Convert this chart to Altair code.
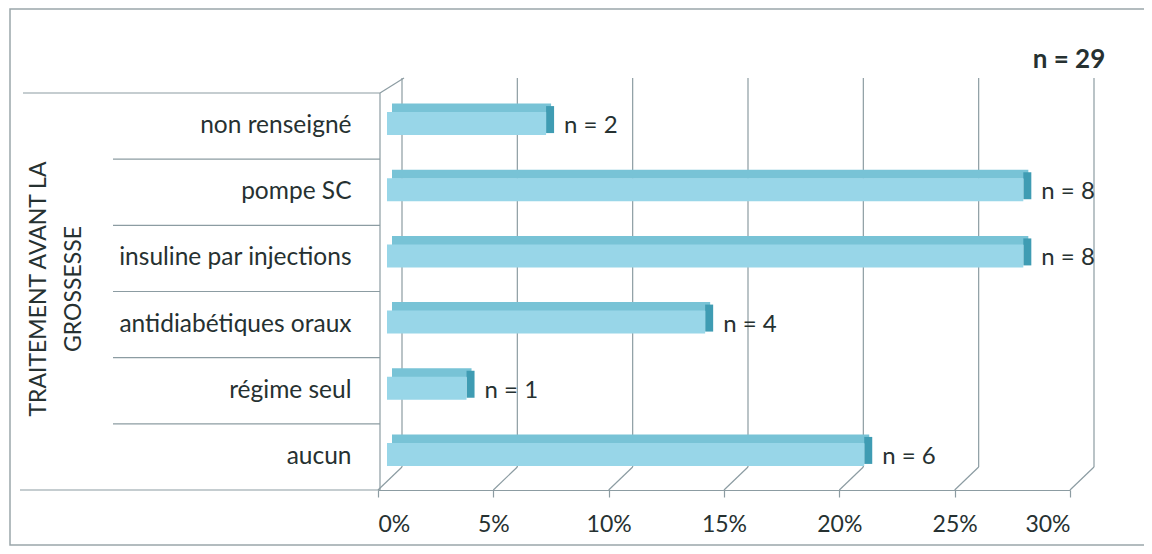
import altair as alt
import pandas as pd

# ---- data ----
categories = ["non renseigné", "pompe SC", "insuline par injections",
              "antidiabétiques oraux", "régime seul", "aucun"]
counts = [2, 8, 8, 4, 1, 6]
total = 29
x_ticks = [0, 0.05, 0.10, 0.15, 0.20, 0.25, 0.30]
y_title = ["TRAITEMENT AVANT LA", "GROSSESSE"]

df = pd.DataFrame({"cat": categories, "n": counts})
df["pct"] = df["n"] / total
df["label"] = ["n = %d" % c for c in counts]
ticks_df = pd.DataFrame({"t": x_ticks})
sep_df = pd.DataFrame({"cat": categories[1:]})
one = pd.DataFrame({"total": [total]})
one["txt"] = "n = " + one["total"].astype(str)
one["ytitle"] = "\n".join(y_title)

W, H = 692, 397
FONT = "Lato"
TXT = "#263131"
LINE = "#8c9ca2"
DEPTH_X, DEPTH_Y = 24, 23

xs = alt.Scale(domain=[0, 0.30], nice=False, zero=True)
ys = alt.Scale(domain=categories, paddingInner=0, paddingOuter=0)

x_axis = alt.Axis(values=x_ticks, format=".0%", title=None, grid=False,
                  labelFont=FONT, labelFontSize=23, labelColor=TXT,
                  tickColor=LINE, tickSize=7, tickWidth=1.2,
                  domainColor=LINE, domainWidth=1.2, labelPadding=16)
y_axis = alt.Axis(title=None, ticks=False, domain=False, grid=False,
                  labelFont=FONT, labelFontSize=24.5, labelColor=TXT,
                  labelPadding=27, labelLimit=400)


def X(field):
    return alt.X(field, scale=xs, axis=x_axis)


def Y(field, **kw):
    return alt.Y(field, scale=ys, sort=categories, axis=y_axis, **kw)


# back wall gridlines
back_grid = alt.Chart(ticks_df).mark_rule(color=LINE, strokeWidth=1.2, xOffset=DEPTH_X).encode(
    x=X("t:Q"), y=alt.value(-15), y2=alt.value(H - DEPTH_Y),
)
# floor diagonals
diag = alt.Chart(ticks_df).mark_rule(color=LINE, strokeWidth=1.2, x2Offset=DEPTH_X).encode(
    x=X("t:Q"), x2="t:Q", y=alt.value(H), y2=alt.value(H - DEPTH_Y),
)
top_diag = alt.Chart(one).mark_rule(color=LINE, strokeWidth=1.2).encode(
    x=alt.value(2), x2=alt.value(2 + DEPTH_X), y=alt.value(0), y2=alt.value(-15),
)
front_wall = alt.Chart(one).mark_rule(color=LINE, strokeWidth=1.2).encode(
    x=alt.value(2), y=alt.value(0), y2=alt.value(H),
)
top_line = alt.Chart(one).mark_rule(color=LINE, strokeWidth=1.2).encode(
    x=alt.value(-355), x2=alt.value(2), y=alt.value(0),
)
bottom_line = alt.Chart(one).mark_rule(color=LINE, strokeWidth=1.2).encode(
    x=alt.value(-358), x2=alt.value(2), y=alt.value(H),
)
seps = alt.Chart(sep_df).mark_rule(color=LINE, strokeWidth=1.2).encode(
    y=Y("cat:N", bandPosition=0), x=alt.value(-265), x2=alt.value(2),
)

# 3D-looking bars
top_face = alt.Chart(df).mark_bar(color="#78c3d6", size=9, xOffset=14, x2Offset=14,
                                  yOffset=-18, y2Offset=-18).encode(
    x=X("pct:Q"), y=Y("cat:N"),
)
side_face = alt.Chart(df).mark_bar(color="#3f9cb3", size=27, xOffset=9, x2Offset=17,
                                   yOffset=-6.5, y2Offset=-6.5).encode(
    x=X("pct:Q"), x2="pct:Q", y=Y("cat:N"),
)
front_face = alt.Chart(df).mark_bar(color="#98d6e8", size=23, xOffset=9, x2Offset=9,
                                    yOffset=-2.5, y2Offset=-2.5).encode(
    x=X("pct:Q"), y=Y("cat:N"),
)
labels = alt.Chart(df).mark_text(align="left", baseline="middle", dx=27, font=FONT,
                                 fontSize=24, color=TXT).encode(
    x=X("pct:Q"), y=Y("cat:N"), text="label:N",
)
total_txt = alt.Chart(one).mark_text(align="center", baseline="middle", font=FONT,
                                     fontSize=26, fontWeight="bold", color=TXT).encode(
    x=alt.value(691), y=alt.value(-33), text="txt:N",
)
ytitle = alt.Chart(one).mark_text(angle=270, lineBreak="\n", lineHeight=35, align="center",
                                  baseline="middle", font=FONT, fontSize=23, color=TXT).encode(
    x=alt.value(-339), y=alt.value(196), text="ytitle:N",
)
border = alt.Chart(one).mark_rect(fillOpacity=0, stroke="#9aa6aa", strokeWidth=1.5).encode(
    x=alt.value(-368), x2=alt.value(769), y=alt.value(-84), y2=alt.value(452),
)

chart = alt.layer(
    border, back_grid, diag, top_diag, top_face, side_face, front_face,
    labels, front_wall, top_line, bottom_line, seps, total_txt, ytitle,
).properties(
    width=W, height=H,
    padding={"left": 370, "top": 85, "right": 74, "bottom": 56},
    autosize=alt.AutoSizeParams(type="none"),
    background="white",
).configure_view(stroke=None)

chart.save("out.html", embed_options={"renderer": "svg", "actions": False})
